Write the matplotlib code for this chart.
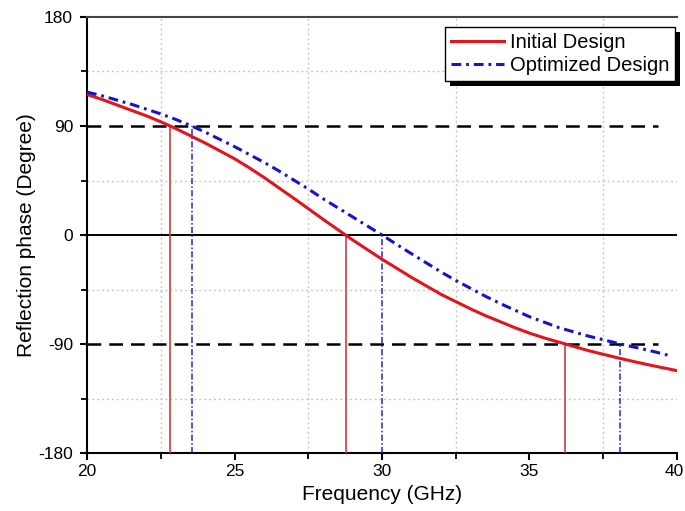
import matplotlib
matplotlib.use("Agg")
import matplotlib.pyplot as plt
from matplotlib.patches import Rectangle
from matplotlib.transforms import ScaledTranslation

plt.rcParams['font.family'] = ['Liberation Sans', 'DejaVu Sans']
plt.rcParams['axes.unicode_minus'] = False

# ---- data ----
freq_init = [20, 20.5, 21, 21.5, 22, 22.5, 23, 23.5, 24, 24.5, 25, 25.5, 26, 26.5, 27, 27.5,
             28, 28.5, 29, 29.5, 30, 30.5, 31, 31.5, 32, 32.5, 33, 33.5, 34, 34.5, 35, 35.5,
             36, 36.5, 37, 37.5, 38, 38.5, 39, 39.5, 40]
phase_init = [116, 112, 107.5, 103, 98.5, 93.5, 88, 82, 76, 69.5, 63, 55.5, 47.5, 39, 30.5, 21.8,
              13, 4.5, -4, -12, -20, -27.5, -35, -42, -49, -55, -61, -66.5, -71.5, -76.5, -81, -85,
              -88.5, -92, -95.5, -98.5, -101.5, -104.3, -107, -109.5, -112]

freq_opt = [20, 20.5, 21, 21.5, 22, 22.5, 23, 23.5, 24, 24.5, 25, 25.5, 26, 26.5, 27, 27.5,
            28, 28.5, 29, 29.5, 30, 30.5, 31, 31.5, 32, 32.5, 33, 33.5, 34, 34.5, 35, 35.5,
            36, 36.5, 37, 37.5, 38, 38.5, 39, 39.5, 39.7]
phase_opt = [118, 115, 111.5, 108, 104, 100, 95.5, 90.5, 85, 79, 73, 66.5, 60, 53, 45.5, 38,
             30, 22.5, 15, 7.5, 0, -7.8, -15.5, -23, -30.5, -37.5, -44, -50.5, -56.5, -62, -67.5, -72,
             -76.5, -80, -83.5, -86.5, -89.5, -92.3, -95, -98, -99.3]

# crossing markers (frequency, phase level)
mark_init_f = [22.83, 28.77, 36.19]
mark_init_p = [90, 0, -90]
mark_opt_f = [23.55, 29.99, 38.08]
mark_opt_p = [90, 0, -90]

ref_levels = [90, -90]
ref_end = 39.35

xticks = [20, 25, 30, 35, 40]
yticks = [-180, -90, 0, 90, 180]
xminor = [22.5, 27.5, 32.5, 37.5]
yminor = [-135, -45, 45, 135]

labels = ["Initial Design", "Optimized Design"]

# ---- figure ----
fig = plt.figure(figsize=(6.85, 5.11), dpi=100)
ax = fig.add_axes([87/685, 58/511, 590/685, 436/511])

ax.set_xlim(20, 40)
ax.set_ylim(-180, 180)

# grid at minor positions
for x in xminor:
    ax.axvline(x, color='#c8c8c8', lw=1.0, ls=(0, (1.5, 2)), zorder=1)
for y in yminor:
    ax.axhline(y, color='#c8c8c8', lw=1.0, ls=(0, (1.5, 2)), zorder=1)

# reference lines
ax.axhline(0, color='black', lw=1.4, zorder=2)
for lv in ref_levels:
    ax.plot([20, ref_end], [lv, lv], color='black', lw=1.8, ls=(0, (5.5, 3.2)), zorder=2)

# markers
ax.vlines(mark_init_f, -180, mark_init_p, colors='#c84040', lw=1.2, zorder=3)
ax.vlines(mark_opt_f, -180, mark_opt_p, colors='#2828b8', lw=1.1, linestyles=(0, (4, 1.5, 1, 1.5)), zorder=3)

# curves
l1, = ax.plot(freq_init, phase_init, color='#e2141c', lw=2.2, zorder=4, label=labels[0])
l2, = ax.plot(freq_opt, phase_opt, color='#1414c8', lw=2.2, ls=(0, (3.2, 1.6, 0.9, 1.6)), zorder=4, label=labels[1])

# ticks
ax.set_xticks(xticks)
ax.set_yticks(yticks)
ax.set_xticks(xminor, minor=True)
ax.set_yticks(yminor, minor=True)
ax.tick_params(which='major', direction='out', length=5, width=1.5, labelsize=12.5, pad=3)
ax.tick_params(axis='y', which='major', pad=5)
ax.tick_params(which='minor', direction='out', length=4, width=1.3)

ax.spines['right'].set_visible(False)
ax.spines['left'].set_linewidth(1.5)
ax.spines['bottom'].set_linewidth(1.5)
ax.spines['top'].set_linewidth(1.5)
ax.spines['top'].set_color('#444444')

ax.set_xlabel("Frequency (GHz)", fontsize=15, labelpad=4)
ax.set_ylabel("Reflection phase (Degree)", fontsize=15, labelpad=2)

leg = ax.legend(handles=[l1, l2], loc='upper right', bbox_to_anchor=(1 - 2/590, 1 - 10/436),
                borderaxespad=0, fontsize=14.5, frameon=True, fancybox=False, framealpha=1,
                edgecolor='black', handlelength=2.6, handletextpad=0.3, borderpad=0.3,
                labelspacing=0.2)
leg.get_frame().set_linewidth(1.0)
leg.set_zorder(6)

fig.canvas.draw()

# keep the last x tick label inside the picture
last = ax.get_xticklabels()[-1]
last.set_transform(last.get_transform() + ScaledTranslation(-3/100, 0, fig.dpi_scale_trans))

# legend drop shadow
bb = leg.get_window_extent().transformed(ax.transAxes.inverted())
dx = 5 / 590
dy = 5 / 436
sh = Rectangle((bb.x0 + dx, bb.y0 - dy), bb.width, bb.height, transform=ax.transAxes,
               facecolor='black', edgecolor='none', zorder=5.5)
ax.add_patch(sh)
sh.set_clip_on(False)

fig.savefig("out.png", dpi=100)
